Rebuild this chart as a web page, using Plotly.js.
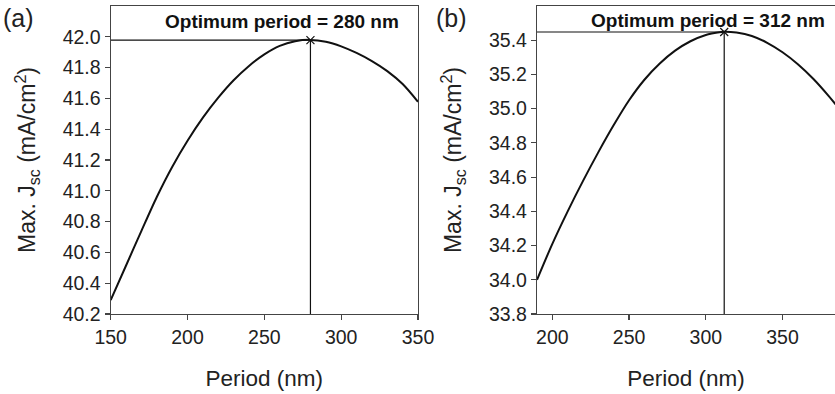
<!DOCTYPE html>
<html><head><meta charset="utf-8">
<script src="https://cdn.plot.ly/plotly-3.0.1.min.js"></script>
<style>html,body{margin:0;padding:0;background:#fff}#chart{width:835px;height:394px}</style>
</head><body><div id="chart"></div>
<script>
// Panel (a)
const periodA = [150,160,170,180,190,200,210,220,230,240,250,260,270,280,290,300,310,320,330,340,350];
const jscA    = [40.29,40.515,40.74,40.96,41.155,41.325,41.475,41.605,41.718,41.811,41.886,41.941,41.971,41.98,41.968,41.938,41.895,41.842,41.777,41.693,41.578];
const optPeriodA = 280, optJscA = 41.978;
// Panel (b)
const periodB = [190,200,210,220,230,240,250,260,270,280,290,300,310,312,320,330,340,350,360,370,380,385];
const jscB    = [34.00,34.21,34.40,34.578,34.746,34.904,35.049,35.169,35.264,35.339,35.394,35.431,35.448,35.45,35.445,35.425,35.385,35.33,35.26,35.175,35.075,35.02];
const optPeriodB = 312, optJscB = 35.448;
const rangeA = {x:[150,350], y:[40.2,42.2]};
const rangeB = {x:[190,384.2], y:[33.8,35.6]};
const ticksA = [40.2,40.4,40.6,40.8,41.0,41.2,41.4,41.6,41.8,42.0];
const ticksB = [33.8,34.0,34.2,34.4,34.6,34.8,35.0,35.2,35.4];
const xticksA = [150,200,250,300,350];
const xticksB = [200,250,300,350];

const FONT = 'Liberation Sans, Arial, sans-serif';
const curveStyle = {color:'#111', width:2, shape:'spline', smoothing:0.8};
const guideStyle = {color:'#111', width:1.2};
const markerStyle = {symbol:'x-thin', size:8, line:{color:'#111', width:1.2}};
const traces = [
  {x:periodA, y:jscA, mode:'lines', line:curveStyle, xaxis:'x', yaxis:'y'},
  {x:[rangeA.x[0], optPeriodA, optPeriodA], y:[optJscA, optJscA, rangeA.y[0]], mode:'lines', line:guideStyle, xaxis:'x', yaxis:'y'},
  {x:[optPeriodA], y:[optJscA], mode:'markers', marker:markerStyle, xaxis:'x', yaxis:'y'},
  {x:periodB, y:jscB, mode:'lines', line:curveStyle, xaxis:'x2', yaxis:'y2'},
  {x:[rangeB.x[0], optPeriodB, optPeriodB], y:[optJscB, optJscB, rangeB.y[0]], mode:'lines', line:guideStyle, xaxis:'x2', yaxis:'y2'},
  {x:[optPeriodB], y:[optJscB], mode:'markers', marker:markerStyle, xaxis:'x2', yaxis:'y2'}
];
const yDom = [1-314/394, 1-6/394];
const axBase = {showgrid:false, zeroline:false, showline:true, linecolor:'#444', linewidth:1.2,
  ticks:'outside', ticklen:5, tickcolor:'#444', tickwidth:1.2,
  tickfont:{family:FONT, size:19.5, color:'#222'}};
const ytitle = 'Max. J<sub>sc</sub> (mA/cm<sup>2</sup>)';
const xTitle = {text:'Period (nm)', font:{family:FONT, size:22.5, color:'#222'}, standoff:23};
const yTitle = {text:ytitle, font:{family:FONT, size:23, color:'#222'}, standoff:20};
const layout = {
  width:835, height:394, margin:{l:0,r:0,t:0,b:0}, showlegend:false,
  paper_bgcolor:'#fff', plot_bgcolor:'#fff',
  xaxis:{...axBase, domain:[110.7/835, 418/835], range:rangeA.x, tickvals:xticksA, mirror:true, anchor:'y', title:xTitle},
  yaxis:{...axBase, domain:yDom, range:rangeA.y, tickvals:ticksA, ticktext:ticksA.map(v=>v.toFixed(1)), mirror:true, anchor:'x', title:yTitle},
  xaxis2:{...axBase, domain:[537/835, 1], range:rangeB.x, tickvals:xticksB, mirror:true, anchor:'y2', title:xTitle},
  yaxis2:{...axBase, domain:yDom, range:rangeB.y, tickvals:ticksB, ticktext:ticksB.map(v=>v.toFixed(1)), mirror:false, anchor:'x2', title:yTitle},
  annotations:[
    {xref:'paper', yref:'paper', x:282/835, y:1-21.5/394, text:'<b>Optimum period = '+optPeriodA+' nm</b>', showarrow:false, font:{family:FONT, size:19, color:'#111'}, xanchor:'center', yanchor:'middle'},
    {xref:'paper', yref:'paper', x:708/835, y:1-21/394, text:'<b>Optimum period = '+optPeriodB+' nm</b>', showarrow:false, font:{family:FONT, size:19, color:'#111'}, xanchor:'center', yanchor:'middle'},
    {xref:'paper', yref:'paper', x:1/835, y:1-18/394, text:'(a)', showarrow:false, font:{family:FONT, size:25, color:'#222'}, xanchor:'left', yanchor:'middle'},
    {xref:'paper', yref:'paper', x:434/835, y:1-18/394, text:'(b)', showarrow:false, font:{family:FONT, size:25, color:'#222'}, xanchor:'left', yanchor:'middle'}
  ]
};
Plotly.newPlot('chart', traces, layout, {displayModeBar:false, staticPlot:true});
</script></body></html>
